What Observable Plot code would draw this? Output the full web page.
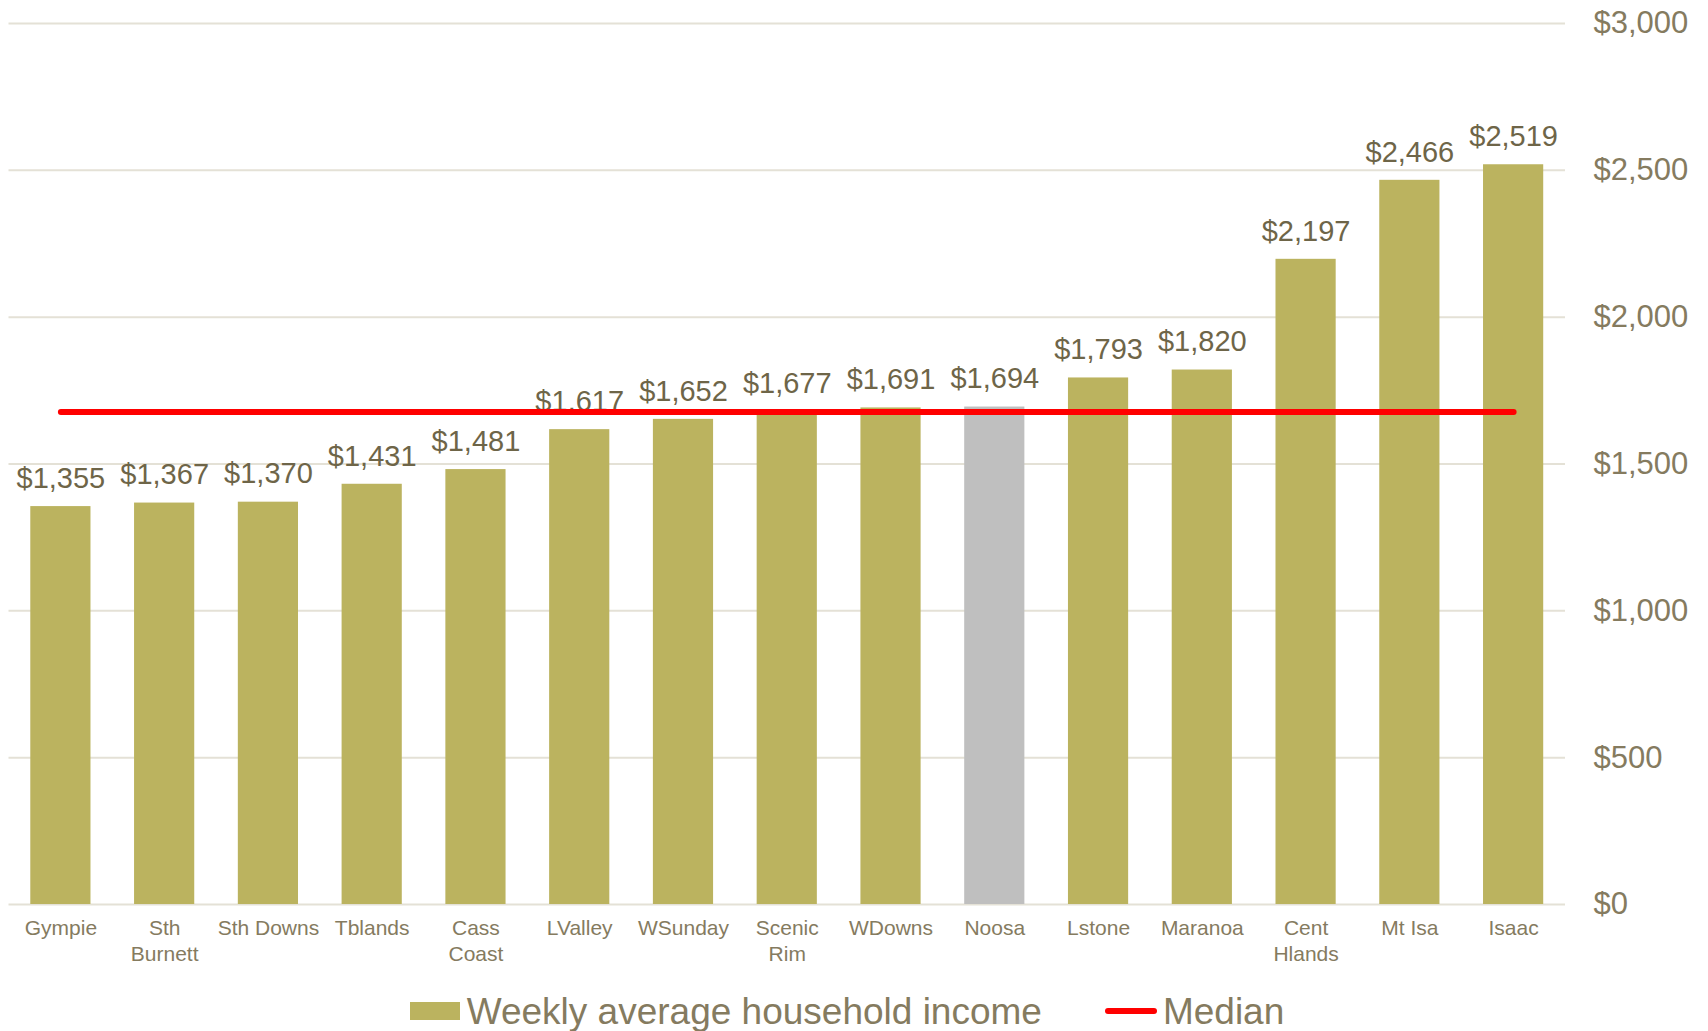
<!DOCTYPE html>
<html>
<head>
<meta charset="utf-8">
<script src="https://cdn.jsdelivr.net/npm/d3@7"></script>
<script src="https://cdn.jsdelivr.net/npm/@observablehq/plot@0.6"></script>
<style>
  html, body { margin: 0; padding: 0; background: #fff; overflow: hidden; }
  body { width: 1708px; height: 1031px; font-family: "Liberation Sans", Arial, sans-serif; }
  #legend {
    height: 51px; box-sizing: border-box; padding-top: 11px; padding-right: 14px;
    display: flex; align-items: center; justify-content: center;
    font-size: 37px; color: #857b5f; line-height: 1;
  }
  #legend .item { display: inline-flex; align-items: center; }
  #legend .sw { width: 50px; height: 18px; background: #bbb35f; margin-right: 7px; }
  #legend .ln { width: 52px; height: 6px; border-radius: 3px; background: #ff0000; margin-left: 63px; margin-right: 6px; }
</style>
</head>
<body>
<div id="chart"></div>
<div id="legend">
  <span class="item"><span class="sw"></span><span>Weekly average household income</span></span>
  <span class="item"><span class="ln"></span><span>Median</span></span>
</div>
<script>
const regions = ["Gympie", "Sth\nBurnett", "Sth Downs", "Tblands", "Cass\nCoast", "LValley", "WSunday", "Scenic\nRim", "WDowns", "Noosa", "Lstone", "Maranoa", "Cent\nHlands", "Mt Isa", "Isaac"];
const incomes = [1355, 1367, 1370, 1431, 1481, 1617, 1652, 1677, 1691, 1694, 1793, 1820, 2197, 2466, 2519];
const highlighted = "Noosa";
const yTicks = [0, 500, 1000, 1500, 2000, 2500, 3000];

const data = regions.map((r, i) => ({region: r, income: incomes[i]}));
const median = d3.median(incomes);
const fmt = v => "$" + d3.format(",")(v);

const chart = Plot.plot({
  width: 1708,
  height: 980,
  marginTop: 23,
  marginBottom: 76,
  marginLeft: 8.5,
  marginRight: 143,
  style: {fontFamily: "'Liberation Sans', Arial, sans-serif", background: "#fff"},
  x: {domain: regions, paddingInner: 0.42, paddingOuter: 0.21, round: false, label: null},
  y: {domain: [0, 3000], label: null},
  marks: [
    Plot.gridY(yTicks, {stroke: "#e4e1d6", strokeOpacity: 1, strokeWidth: 2}),
    Plot.barY(data, {x: "region", y: "income", fill: d => d.region === highlighted ? "#bfbfbf" : "#bbb35f"}),
    Plot.text(data, {x: "region", y: "income", text: d => fmt(d.income), dy: -28, fontSize: 29, fill: "#6e6548"}),
    Plot.lineY(data, {x: "region", y: () => median, stroke: "#ff0000", strokeWidth: 6, strokeLinecap: "round"}),
    Plot.axisY({anchor: "right", ticks: yTicks, tickFormat: fmt, tickSize: 0, tickPadding: 28, fontSize: 31, fill: "#857b5f", label: null}),
    Plot.axisX({tickSize: 0, tickPadding: 13, fontSize: 21, lineHeight: 1.2, fill: "#857b5f", label: null})
  ]
});
document.getElementById("chart").appendChild(chart);
</script>
</body>
</html>
